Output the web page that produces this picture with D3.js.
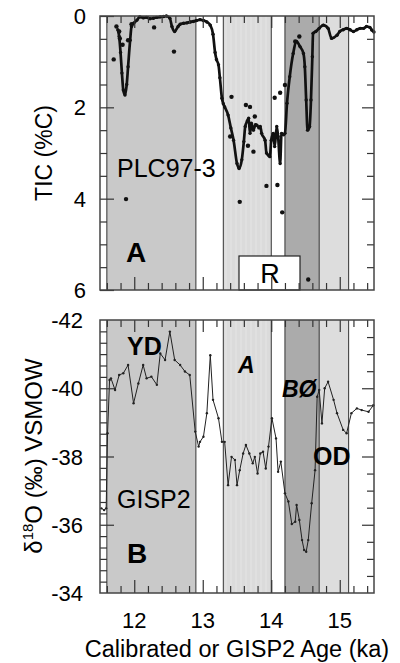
<!DOCTYPE html>
<html>
<head>
<meta charset="utf-8">
<script src="https://cdn.jsdelivr.net/npm/d3@7"></script>
<style>
  html, body { margin: 0; padding: 0; background: #fff; }
  svg { display: block; font-family: "Liberation Sans", Arial, sans-serif; }
</style>
</head>
<body>
<svg id="chart" width="400" height="663"></svg>
<script>
// Climate intervals (ka)
const periodNames = ["YD", "A", "BØ", "OD"];
const periodStart = [11.6, 13.3, 14.2, 14.7];
const periodEnd   = [12.9, 14.0, 14.7, 15.13];

// PLC97-3 total inorganic carbon: smoothed record (age ka, %C)
const ticAge = [11.76, 11.78, 11.80, 11.82, 11.84, 11.865, 11.89, 11.91, 11.94, 11.96, 11.99, 12.04, 12.08, 12.13,
  12.18, 12.23, 12.28, 12.33, 12.38, 12.43, 12.47, 12.52, 12.55, 12.59, 12.64, 12.67, 12.72, 12.77, 12.82, 12.86,
  12.91, 12.96, 13.01, 13.06, 13.11, 13.15, 13.18, 13.20, 13.23, 13.25, 13.28, 13.30, 13.32, 13.37, 13.41, 13.45,
  13.50, 13.53, 13.57, 13.60, 13.62, 13.65, 13.67, 13.69, 13.71, 13.74, 13.77, 13.79, 13.82, 13.84, 13.86, 13.91,
  13.93, 13.96, 13.98, 14.00, 14.03, 14.05, 14.08, 14.10, 14.13, 14.15, 14.18, 14.20, 14.23, 14.27, 14.32, 14.37,
  14.42, 14.47, 14.49, 14.51, 14.53, 14.56, 14.58, 14.60, 14.61, 14.65, 14.70, 14.76, 14.83, 14.88, 14.96, 15.00,
  15.05, 15.10, 15.15, 15.20, 15.25, 15.30, 15.35, 15.39, 15.44, 15.47, 15.50];
const ticPct = [0.30, 0.45, 0.80, 1.25, 1.62, 1.73, 1.50, 1.11, 0.53, 0.23, 0.16, 0.09, 0.02, 0.04,
  0.03, 0.06, 0.05, 0.03, 0.02, 0.01, 0.00, 0.05, 0.23, 0.34, 0.23, 0.18, 0.16, 0.15, 0.13, 0.12,
  0.10, 0.08, 0.10, 0.13, 0.20, 0.40, 0.80, 0.95, 1.07, 1.35, 1.80, 1.92, 1.99, 2.17, 2.45, 2.72,
  3.23, 3.34, 3.15, 2.75, 2.42, 2.30, 2.24, 2.57, 2.35, 2.50, 2.38, 2.39, 2.45, 2.42, 2.57, 2.72,
  3.00, 3.05, 3.08, 2.72, 2.57, 2.86, 2.42, 2.64, 3.23, 2.57, 2.60, 2.57, 1.91, 1.33, 0.82, 0.56,
  0.67, 0.82, 1.11, 1.84, 2.50, 2.42, 1.84, 0.89, 0.38, 0.34, 0.27, 0.20, 0.27, 0.49, 0.42, 0.34,
  0.30, 0.27, 0.30, 0.34, 0.30, 0.27, 0.27, 0.23, 0.25, 0.31, 0.35];

// PLC97-3 individual TIC measurements
const ticSampleAge = [11.70, 11.74, 11.78, 11.79, 11.83, 11.88, 11.91, 11.96, 12.29, 12.58, 13.40, 13.42, 13.54,
  13.63, 13.66, 13.69, 13.74, 13.76, 13.93, 14.05, 14.09, 14.13, 14.16, 14.20, 14.35, 14.41, 14.54];
const ticSamplePct = [0.95, 0.23, 0.34, 0.49, 0.63, 4.01, 0.53, 0.18, 0.25, 0.78, 2.64, 1.77, 4.07,
  1.95, 2.84, 1.99, 2.97, 2.20, 3.72, 1.79, 3.70, 1.68, 4.30, 1.51, 0.56, 0.45, 5.77];

// GISP2 oxygen isotopes (age ka, d18O permil VSMOW)
const gispAge = [11.52, 11.56, 11.59, 11.61, 11.64, 11.66, 11.72, 11.78, 11.84, 11.91, 11.99, 12.06, 12.13, 12.18,
  12.25, 12.33, 12.38, 12.45, 12.52, 12.59, 12.67, 12.74, 12.81, 12.89, 12.94, 12.96, 13.01, 13.06, 13.11, 13.15,
  13.23, 13.28, 13.32, 13.37, 13.42, 13.47, 13.50, 13.54, 13.59, 13.63, 13.68, 13.73, 13.76, 13.80, 13.84, 13.88,
  13.92, 13.96, 14.01, 14.07, 14.10, 14.14, 14.20, 14.25, 14.30, 14.35, 14.37, 14.41, 14.45, 14.48, 14.51, 14.54,
  14.59, 14.64, 14.67, 14.70, 14.74, 14.78, 14.83, 14.91, 14.96, 15.05, 15.10, 15.17, 15.25, 15.32, 15.42, 15.49];
const gispD18O = [-36.48, -36.43, -36.48, -38.68, -40.24, -40.29, -39.95, -40.39, -40.44, -40.68, -39.56, -40.14, -40.68, -40.29,
  -40.34, -40.10, -41.02, -40.83, -41.66, -40.83, -40.68, -40.49, -40.39, -38.73, -38.29, -38.43, -38.58, -39.27, -40.97, -39.66,
  -39.12, -38.43, -38.43, -37.16, -37.99, -37.90, -37.16, -37.60, -38.09, -38.34, -38.09, -37.80, -37.99, -37.50, -38.09, -38.14,
  -37.65, -38.29, -39.12, -38.53, -37.55, -37.85, -36.92, -36.68, -36.02, -36.09, -36.58, -36.14, -35.55, -35.26, -35.21, -35.55,
  -36.63, -37.60, -39.75, -39.95, -38.97, -40.00, -40.19, -39.66, -39.27, -38.78, -38.68, -39.27, -39.41, -39.36, -39.31, -39.50];

// Axis ticks
const ageTicks = [12, 13, 14, 15];
const ticTicks = [0, 2, 4, 6];
const d18OTicks = [-42, -40, -38, -36, -34];

const svg = d3.select("#chart");
const FONT = '"Liberation Sans", Arial, sans-serif';

const x = d3.scaleLinear().domain([11.5, 15.5]).range([100, 374]);
const yTop = d3.scaleLinear().domain([0, 6]).range([16, 290]);
const yBot = d3.scaleLinear().domain([-42, -34]).range([320, 593]);

const periodFill = { "YD": "#c9c9c9", "A": "#dcdcdc", "BØ": "#ababab", "OD": "#dddddd" };

// faint vertical stripes for the Allerød band
const defs = svg.append("defs");
const pat = defs.append("pattern").attr("id", "stripes").attr("patternUnits", "userSpaceOnUse")
  .attr("width", 5).attr("height", 5);
pat.append("rect").attr("width", 5).attr("height", 5).attr("fill", "#dbdbdb");
pat.append("rect").attr("x", 0).attr("width", 2).attr("height", 5).attr("fill", "#e0e0e0");

function drawPanel(y) {
  const g = svg.append("g");
  const [y0, y1] = y.range();
  // shaded intervals
  periodNames.forEach((name, i) => {
    g.append("rect")
      .attr("x", x(periodStart[i])).attr("y", y0)
      .attr("width", x(periodEnd[i]) - x(periodStart[i])).attr("height", y1 - y0)
      .attr("fill", name === "A" ? "url(#stripes)" : periodFill[name]);
  });
  const bounds = Array.from(new Set(periodStart.concat(periodEnd)));
  g.selectAll(".bnd").data(bounds).join("line")
    .attr("x1", d => x(d)).attr("x2", d => x(d))
    .attr("y1", y0).attr("y2", y1)
    .attr("stroke", "#333").attr("stroke-width", 1);
  return g;
}

function frameAxes(g, y, majorY, minorY, majorRight, minorRight) {
  const [y0, y1] = y.range();
  const [x0, x1] = x.range();
  const minorAge = d3.range(11.6, 15.5, 0.2).map(v => +v.toFixed(1)).filter(v => !ageTicks.includes(v));
  const mk = (axis, sel) => {
    sel.call(axis);
    sel.select(".domain").remove();
    sel.selectAll("line").attr("stroke", "#333").attr("stroke-width", 1.2);
    sel.selectAll("text").remove();
  };
  // bottom / top ticks (pointing inward)
  mk(d3.axisBottom(x).tickValues(ageTicks).tickSize(-13), g.append("g").attr("transform", `translate(0,${y1})`));
  mk(d3.axisBottom(x).tickValues(minorAge).tickSize(-7), g.append("g").attr("transform", `translate(0,${y1})`));
  mk(d3.axisTop(x).tickValues(ageTicks).tickSize(-12), g.append("g").attr("transform", `translate(0,${y0})`));
  mk(d3.axisTop(x).tickValues(minorAge).tickSize(-7), g.append("g").attr("transform", `translate(0,${y0})`));
  // left / right ticks
  mk(d3.axisLeft(y).tickValues(majorY).tickSize(-14), g.append("g").attr("transform", `translate(${x0},0)`));
  mk(d3.axisLeft(y).tickValues(minorY).tickSize(-7), g.append("g").attr("transform", `translate(${x0},0)`));
  mk(d3.axisRight(y).tickValues(majorRight).tickSize(-12), g.append("g").attr("transform", `translate(${x1},0)`));
  mk(d3.axisRight(y).tickValues(minorRight).tickSize(-7), g.append("g").attr("transform", `translate(${x1},0)`));
  g.append("rect").attr("x", x0).attr("y", y0).attr("width", x1 - x0).attr("height", y1 - y0)
    .attr("fill", "none").attr("stroke", "#444").attr("stroke-width", 1.5);
}

// ---------- Panel A: TIC ----------
const gA = drawPanel(yTop);
// "R" box
gA.append("rect").attr("x", 239).attr("y", 256).attr("width", 61).attr("height", yTop(6) - 256)
  .attr("fill", "#fff").attr("stroke", "#222").attr("stroke-width", 1.2);
gA.append("text").attr("x", 270).attr("y", 283).attr("text-anchor", "middle")
  .attr("font-size", 27).attr("font-family", FONT).text("R");

const ticPts = ticAge.map((a, i) => [a, ticPct[i]]);
gA.append("path").datum(ticPts)
  .attr("fill", "none").attr("stroke", "#111").attr("stroke-width", 2.7)
  .attr("stroke-linejoin", "round")
  .attr("d", d3.line().x(d => x(d[0])).y(d => yTop(d[1])).curve(d3.curveMonotoneX));
gA.selectAll(".tm").data(ticPts).join("circle")
  .attr("cx", d => x(d[0])).attr("cy", d => yTop(d[1])).attr("r", 1.7).attr("fill", "#111");
gA.selectAll(".ts").data(ticSampleAge.map((a, i) => [a, ticSamplePct[i]])).join("circle")
  .attr("cx", d => x(d[0])).attr("cy", d => yTop(d[1])).attr("r", 2.2).attr("fill", "#111");

const ticMinor = d3.range(0.5, 6, 0.5).filter(v => !ticTicks.includes(v));
frameAxes(gA, yTop, ticTicks, ticMinor, [2, 4], d3.range(0.5, 6, 0.5).filter(v => v !== 2 && v !== 4));

svg.selectAll(".tlab").data(ticTicks).join("text")
  .attr("x", 86).attr("y", d => yTop(d) + 8).attr("text-anchor", "end")
  .attr("font-size", 22).attr("font-family", FONT).text(d => d);

gA.append("text").attr("x", 117).attr("y", 177).attr("font-size", 25).attr("font-family", FONT).text("PLC97-3");
gA.append("text").attr("x", 126).attr("y", 262).attr("font-size", 28).attr("font-weight", "bold")
  .attr("font-family", FONT).text("A");

svg.append("text").attr("transform", `translate(52,153) rotate(-90)`).attr("text-anchor", "middle")
  .attr("font-size", 23).attr("font-family", FONT).text("TIC (%C)");

// ---------- Panel B: GISP2 d18O ----------
const gB = drawPanel(yBot);
const gispPts = gispAge.map((a, i) => [a, gispD18O[i]]);
gB.append("path").datum(gispPts)
  .attr("fill", "none").attr("stroke", "#222").attr("stroke-width", 1)
  .attr("d", d3.line().x(d => x(d[0])).y(d => yBot(d[1])));
gB.selectAll(".gm").data(gispPts).join("circle")
  .attr("cx", d => x(d[0])).attr("cy", d => yBot(d[1])).attr("r", 1.2).attr("fill", "#222");

const dMinorL = d3.range(-42, -34, 1 / 3).map(v => +v.toFixed(3)).filter(v => !d18OTicks.some(t => Math.abs(t - v) < 1e-6));
const dMinorR = d3.range(-41.5, -34, 0.5).filter(v => !d18OTicks.includes(v));
frameAxes(gB, yBot, d18OTicks.slice(1, -1), dMinorL, d18OTicks.slice(1, -1), dMinorR);

svg.selectAll(".dlab").data(d18OTicks).join("text")
  .attr("x", 83).attr("y", d => yBot(d) + 8).attr("text-anchor", "end")
  .attr("font-size", 22).attr("font-family", FONT).text(d => d);

const labB = [
  { t: "YD", x: 127, y: 355, size: 25, style: "normal" },
  { t: "A", x: 238, y: 373, size: 23, style: "italic" },
  { t: "BØ", x: 282, y: 397, size: 23, style: "italic" },
  { t: "OD", x: 313, y: 465, size: 25, style: "normal" }
];
labB.forEach(l => gB.append("text").attr("x", l.x).attr("y", l.y).attr("font-size", l.size)
  .attr("font-weight", "bold").attr("font-style", l.style).attr("font-family", FONT).text(l.t));
gB.append("text").attr("x", 117).attr("y", 508).attr("font-size", 25).attr("font-family", FONT).text("GISP2");
gB.append("text").attr("x", 127).attr("y", 563).attr("font-size", 28).attr("font-weight", "bold")
  .attr("font-family", FONT).text("B");

const yt = svg.append("text").attr("transform", `translate(42,456) rotate(-90)`).attr("text-anchor", "middle")
  .attr("font-size", 24).attr("font-family", FONT);
yt.append("tspan").text("δ");
yt.append("tspan").attr("font-size", 15).attr("dy", -9).text("18");
yt.append("tspan").attr("dy", 9).text("O (‰) VSMOW");

// x tick labels and title
svg.selectAll(".xlab").data(ageTicks).join("text")
  .attr("x", d => x(d)).attr("y", 628).attr("text-anchor", "middle")
  .attr("font-size", 22).attr("font-family", FONT).text(d => d);
svg.append("text").attr("x", 237).attr("y", 657).attr("text-anchor", "middle")
  .attr("font-size", 23.5).attr("font-family", FONT).text("Calibrated or GISP2 Age (ka)");
</script>
</body>
</html>
